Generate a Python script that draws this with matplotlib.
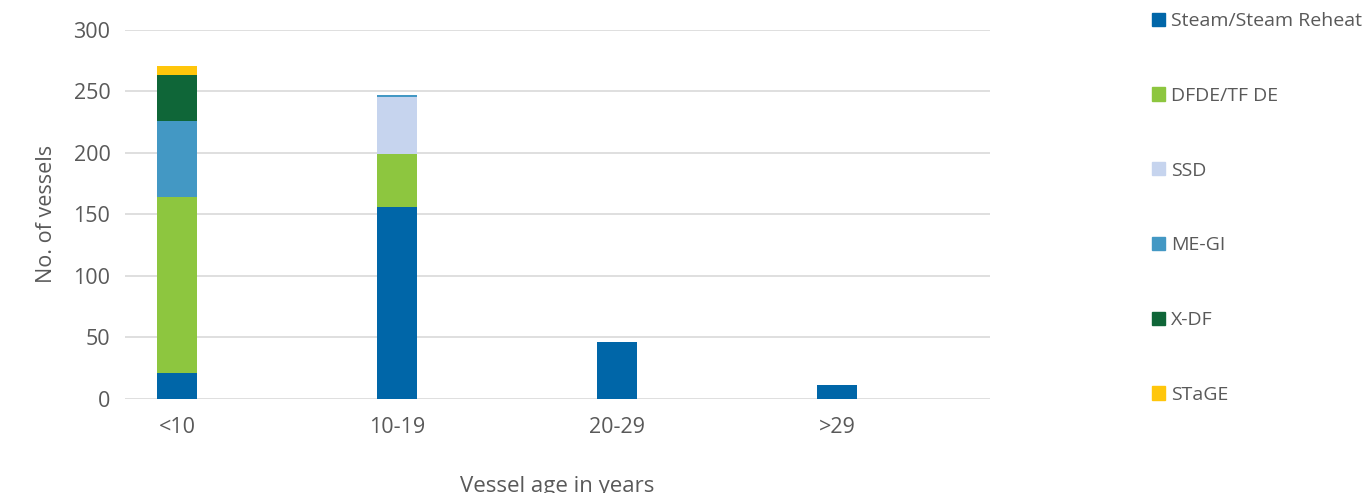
import numpy as np
import matplotlib
matplotlib.use("Agg")
import matplotlib.pyplot as plt
from matplotlib.patches import Patch

plt.rcParams['font.family'] = ['Open Sans', 'DejaVu Sans']

# vessel counts per age group
ages = ['<10', '10-19', '20-29', '>29']
series = ['Steam/Steam Reheat', 'DFDE/TF DE', 'SSD', 'ME-GI', 'X-DF', 'STaGE']
steam = [21, 156, 46, 11]
dfde = [143, 43, 0, 0]
ssd = [0, 46, 0, 0]
megi = [62, 2, 0, 0]
xdf = [37, 0, 0, 0]
stage = [7, 0, 0, 0]
colors = ['#0066a8', '#8dc63f', '#c6d4ee', '#4398c4', '#0f6638', '#ffc60b']

fig = plt.figure(figsize=(13.66, 4.93), dpi=100)
ax = fig.add_axes([125/1366, 1 - 399/493, 865/1366, 369.5/493])

x = np.arange(len(ages))
bottom = np.zeros(len(ages))
for vals, col in zip([steam, dfde, ssd, megi, xdf, stage], colors):
    ax.bar(x, vals, width=0.18, bottom=bottom, color=col, zorder=3)
    bottom += np.array(vals)

ax.set_xlim(-0.236, 3.695)
ax.set_ylim(0, 300)
ax.set_yticks(range(0, 301, 50))
ax.set_xticks(x)
ax.set_xticklabels(ages)
ax.grid(axis='y', color='#d9d9d9', linewidth=1.2, zorder=0)
for s in ax.spines.values():
    s.set_visible(False)
ax.tick_params(length=0, colors='#595959', labelsize=15.5)
ax.tick_params(axis='x', pad=13)
ax.tick_params(axis='y', pad=10.5)
ax.set_ylabel('No. of vessels', fontsize=15.5, color='#595959', labelpad=12)
ax.set_xlabel('Vessel age in years', fontsize=16, color='#595959', labelpad=27)

handles = [Patch(color=c) for c in colors]
leg = fig.legend(handles, series, loc='upper left', bbox_to_anchor=(1152/1366, 1 - 12/493),
                 frameon=False, fontsize=14, labelspacing=2.92, handlelength=0.68,
                 handleheight=0.68, handletextpad=0.3, borderaxespad=0, borderpad=0)
for t in leg.get_texts():
    t.set_color('#595959')

fig.savefig('out.png', dpi=100)
